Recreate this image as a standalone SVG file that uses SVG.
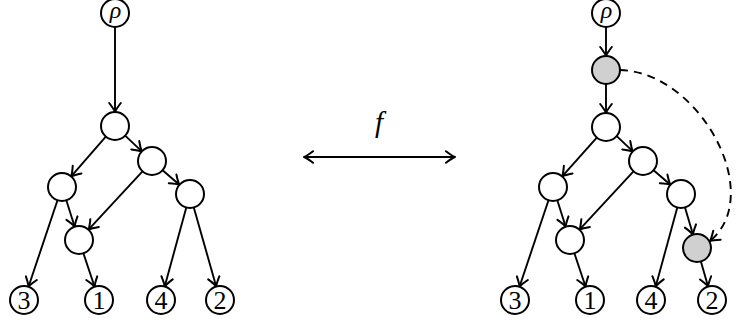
<svg xmlns="http://www.w3.org/2000/svg" width="736" height="327" viewBox="0 0 736 327">
<style>
.n{fill:#fff;stroke:#000;stroke-width:2}
.g{fill:#d0d0d0;stroke:#000;stroke-width:2}
.e{fill:none;stroke:#000;stroke-width:1.9;marker-end:url(#ah)}
.d{fill:none;stroke:#000;stroke-width:1.9;stroke-dasharray:8 6;marker-end:url(#ah)}
</style>
<defs>
<marker id="ah" markerUnits="userSpaceOnUse" viewBox="-12 -7 14 14" markerWidth="14" markerHeight="14" refX="0" refY="0" orient="auto-start-reverse">
<path d="M -9 -5.8 Q -3 -1.2 0 0 Q -3 1.2 -9 5.8" fill="none" stroke="#000" stroke-width="2" stroke-linecap="round" stroke-linejoin="round"/>
</marker>
</defs>
<g id="connectors">
<path class="e" d="M115 27 L115 112"/>
<path class="e" d="M105.8 136.6 L71.2 176.4"/>
<path class="e" d="M125.2 135.6 L141.8 151.4"/>
<path class="e" d="M142.5 171.3 L88.5 229.7"/>
<path class="e" d="M162.6 170.2 L179.4 184.8"/>
<path class="e" d="M57.5 200.3 L28.5 286.7"/>
<path class="e" d="M66.3 200.3 L74.7 226.7"/>
<path class="e" d="M83.4 253.3 L94.6 286.7"/>
<path class="e" d="M186.3 207.5 L164.7 286.5"/>
<path class="e" d="M193.8 207.5 L216.2 286.5"/>
<path class="e" d="M304 157 L455 157" marker-start="url(#ah)"/>
<path class="e" d="M606 27 L606 56"/>
<path class="e" d="M606 84 L606 113"/>
<path class="e" d="M596.8 137.6 L562.2 176.4"/>
<path class="e" d="M616.2 135.6 L632.8 151.4"/>
<path class="e" d="M633.5 171.3 L579.5 229.7"/>
<path class="e" d="M653.6 170.2 L670.4 184.8"/>
<path class="e" d="M548.5 200.3 L519.5 286.7"/>
<path class="e" d="M557.3 200.3 L565.7 226.7"/>
<path class="e" d="M574.4 253.3 L585.6 286.7"/>
<path class="e" d="M677.3 207.5 L655.7 286.5"/>
<path class="e" d="M685 207.4 L693 234.6"/>
<path class="e" d="M700.9 261.5 L708.1 286.5"/>
<path class="d" d="M620 70 C700 72 766 195 710 241"/>
</g>
<g font-family="Liberation Serif, serif" text-anchor="middle">
<text x="379" y="132" font-size="29" font-style="italic">f</text>
<g id="L-rho"><circle class="n" cx="115" cy="13" r="14"/><text x="115.5" y="17.5" font-size="24" font-style="italic">ρ</text></g>
<g id="L-A"><circle class="n" cx="115" cy="126" r="14"/></g>
<g id="L-B"><circle class="n" cx="152" cy="161" r="14"/></g>
<g id="L-C"><circle class="n" cx="62" cy="187" r="14"/></g>
<g id="L-D"><circle class="n" cx="190" cy="194" r="14"/></g>
<g id="L-E"><circle class="n" cx="79" cy="240" r="14"/></g>
<g id="L-3"><circle class="n" cx="24" cy="300" r="14"/><text x="24" y="309" font-size="26">3</text></g>
<g id="L-1"><circle class="n" cx="99" cy="300" r="14"/><text x="99" y="309" font-size="26">1</text></g>
<g id="L-4"><circle class="n" cx="161" cy="300" r="14"/><text x="161" y="309" font-size="26">4</text></g>
<g id="L-2"><circle class="n" cx="220" cy="300" r="14"/><text x="220" y="309" font-size="26">2</text></g>
<g id="R-rho"><circle class="n" cx="606" cy="13" r="14"/><text x="606.5" y="17.5" font-size="24" font-style="italic">ρ</text></g>
<g id="R-G1"><circle class="g" cx="606" cy="70" r="14"/></g>
<g id="R-A"><circle class="n" cx="606" cy="127" r="14"/></g>
<g id="R-B"><circle class="n" cx="643" cy="161" r="14"/></g>
<g id="R-C"><circle class="n" cx="553" cy="187" r="14"/></g>
<g id="R-D"><circle class="n" cx="681" cy="194" r="14"/></g>
<g id="R-E"><circle class="n" cx="570" cy="240" r="14"/></g>
<g id="R-G2"><circle class="g" cx="697" cy="248" r="14"/></g>
<g id="R-3"><circle class="n" cx="515" cy="300" r="14"/><text x="515" y="309" font-size="26">3</text></g>
<g id="R-1"><circle class="n" cx="590" cy="300" r="14"/><text x="590" y="309" font-size="26">1</text></g>
<g id="R-4"><circle class="n" cx="651" cy="300" r="14"/><text x="651" y="309" font-size="26">4</text></g>
<g id="R-2"><circle class="n" cx="712" cy="300" r="14"/><text x="712" y="309" font-size="26">2</text></g>
</g>
</svg>
